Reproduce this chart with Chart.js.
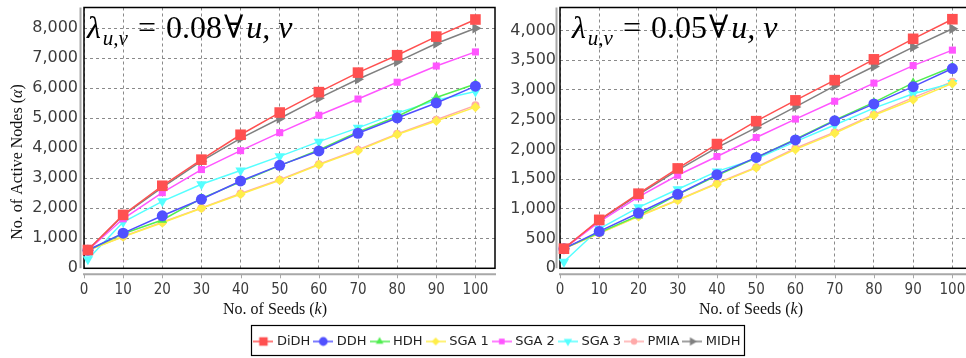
<!DOCTYPE html>
<html>
<head>
<meta charset="utf-8">
<script src="https://cdn.jsdelivr.net/npm/chart.js@4.4.1/dist/chart.umd.min.js"></script>
<style>
  html, body { margin: 0; padding: 0; background: #fff; overflow: hidden; }
  #wrap { position: relative; width: 966px; height: 358px; overflow: hidden; }
  #left { position: absolute; left: 0; top: 0; }
  #right { position: absolute; left: 480px; top: 0; }
</style>
</head>
<body>
<div id="wrap">
  <canvas id="left" width="997" height="358"></canvas>
  <canvas id="right" width="500" height="330"></canvas>
</div>
<script>
// Data
const seeds = [1, 10, 20, 30, 40, 50, 60, 70, 80, 90, 100]
const xTickValues = [0, 10, 20, 30, 40, 50, 60, 70, 80, 90, 100]
const yTicksLeft = [0, 1000, 2000, 3000, 4000, 5000, 6000, 7000, 8000]
const yTicksRight = [0, 500, 1000, 1500, 2000, 2500, 3000, 3500, 4000]

const seriesNames = ["DiDH", "DDH", "HDH", "SGA 1", "SGA 2", "SGA 3", "PMIA", "MIDH"]

// lambda = 0.08
const didh08 = [610, 1780, 2750, 3620, 4450, 5190, 5870, 6520, 7100, 7720, 8290]
const ddh08 = [600, 1170, 1750, 2300, 2910, 3430, 3910, 4500, 5010, 5510, 6070]
const hdh08 = [600, 1150, 1610, 2330, 2880, 3420, 3940, 4540, 5060, 5690, 6140]
const sga1_08 = [600, 1050, 1520, 2000, 2470, 2930, 3450, 3920, 4460, 4910, 5370]
const sga2_08 = [600, 1650, 2520, 3290, 3920, 4520, 5100, 5640, 6200, 6740, 7210]
const sga3_08 = [300, 1540, 2230, 2800, 3260, 3730, 4220, 4680, 5170, 5600, 5890]
const pmia08 = [600, 1060, 1540, 2010, 2490, 2950, 3470, 3950, 4480, 4950, 5430]
const midh08 = [610, 1760, 2700, 3570, 4330, 4990, 5670, 6300, 6880, 7490, 8000]

// lambda = 0.05
const didh05 = [330, 815, 1255, 1680, 2090, 2475, 2825, 3165, 3515, 3860, 4190]
const ddh05 = [330, 620, 930, 1245, 1575, 1865, 2160, 2480, 2765, 3055, 3360]
const hdh05 = [330, 600, 885, 1240, 1560, 1860, 2170, 2490, 2790, 3120, 3385]
const sga1_05 = [330, 590, 870, 1145, 1420, 1690, 2000, 2270, 2575, 2835, 3110]
const sga2_05 = [330, 780, 1200, 1565, 1880, 2200, 2510, 2810, 3115, 3410, 3670]
const sga3_05 = [110, 665, 1025, 1330, 1630, 1840, 2130, 2410, 2695, 2935, 3115]
const pmia05 = [330, 590, 880, 1150, 1430, 1700, 2020, 2290, 2590, 2870, 3140]
const midh05 = [330, 800, 1240, 1650, 2030, 2365, 2715, 3070, 3395, 3720, 4030]

// Styles
const seriesColors = ["#ff5050", "#5050ff", "#50ee50", "#ffee4a", "#ff55ff", "#55ffff", "#ffaaaa", "#808080"]
const markerStyles = ["rect", "circle", "triangle", "rectRot", "rect", "triangle", "circle", "triangle"]
const markerRotations = [0, 0, 0, 0, 0, 180, 0, 90]
const markerSizes = [7.5, 5.5, 5.5, 5, 5, 6, 4, 6]

const tickColor = "#3c3c3c"
const gridColor = "#8a8a8a"
const sansFont = '"DejaVu Sans", sans-serif'
const serifFont = '"Liberation Serif", "DejaVu Serif", serif'

function makeDatasets(values) {
  return seriesNames.map((name, i) => ({
    label: name,
    data: values[i].map((v, j) => ({ x: seeds[j], y: v })),
    borderColor: seriesColors[i],
    backgroundColor: seriesColors[i],
    pointBackgroundColor: seriesColors[i],
    pointBorderColor: seriesColors[i],
    pointStyle: markerStyles[i],
    pointRotation: markerRotations[i],
    pointRadius: markerSizes[i],
    pointBorderWidth: 0,
    borderWidth: 1.5,
    tension: 0,
    clip: false,
  }))
}

function legendIcon(i) {
  const c = document.createElement("canvas")
  c.width = 20
  c.height = 12
  const g = c.getContext("2d")
  g.strokeStyle = seriesColors[i]
  g.lineWidth = 1.5
  g.beginPath()
  g.moveTo(0, 6)
  g.lineTo(20, 6)
  g.stroke()
  g.fillStyle = seriesColors[i]
  Chart.helpers.drawPoint(g, {
    pointStyle: markerStyles[i],
    rotation: markerRotations[i],
    radius: markerSizes[i] * 0.8,
    borderWidth: 0,
  }, 10, 6)
  return c
}

// lambda_{u,v} = value forall u, v
function drawLambda(ctx, x, y, value) {
  ctx.fillStyle = "#000"
  ctx.textBaseline = "alphabetic"
  ctx.textAlign = "left"
  const parts = [
    ["λ", "italic 32px", 0, 2],
    ["u,v", "italic 21px", 7, 10],
    ["=", "32px", 0, 10],
    [value, "32px", 0, 2],
    ["∀", "32px", 0, 3],
    ["u, v", "italic 32px", 0, 0],
  ]
  parts.forEach(([text, font, dy, gap]) => {
    ctx.font = font + " " + serifFont
    ctx.fillText(text, x, y + dy)
    x += ctx.measureText(text).width + gap
  })
}

// draws mixed upright/italic text centered at (cx, cy)
function drawTitle(ctx, parts, cx, cy, angle) {
  ctx.save()
  ctx.translate(cx, cy)
  ctx.rotate(angle)
  ctx.fillStyle = "#111"
  ctx.textBaseline = "middle"
  ctx.textAlign = "left"
  let total = 0
  parts.forEach(([text, font]) => {
    ctx.font = font + " 16px " + serifFont
    total += ctx.measureText(text).width
  })
  let x = -total / 2
  parts.forEach(([text, font]) => {
    ctx.font = font + " 16px " + serifFont
    ctx.fillText(text, x, 0)
    x += ctx.measureText(text).width
  })
  ctx.restore()
}

function framePlugin(lambdaValue, showYTitle) {
  return {
    id: "frame",
    beforeDatasetsDraw(chart) {
      const { ctx, chartArea: a } = chart
      const xs = chart.scales.x
      ctx.save()
      ctx.strokeStyle = "#000"
      ctx.lineWidth = 1.5
      ctx.strokeRect(a.left, a.top, a.right - a.left, a.bottom - a.top)
      // offset gray axis lines
      ctx.strokeStyle = "#a8a8a8"
      ctx.lineWidth = 2
      ctx.beginPath()
      ctx.moveTo(a.left - 3.5, a.top)
      ctx.lineTo(a.left - 3.5, a.bottom)
      ctx.moveTo(a.left - 1, a.bottom + 6)
      ctx.lineTo(a.right + 1, a.bottom + 6)
      ctx.stroke()
      ctx.lineWidth = 1
      ctx.beginPath()
      xTickValues.forEach((v) => {
        const px = Math.round(xs.getPixelForValue(v)) + 0.5
        ctx.moveTo(px, a.bottom + 6)
        ctx.lineTo(px, a.bottom + 10)
      })
      ctx.stroke()
      ctx.restore()
    },
    afterDraw(chart) {
      const { ctx, chartArea: a } = chart
      ctx.save()
      drawLambda(ctx, a.left + (showYTitle ? 3 : 12), 38, lambdaValue)
      drawTitle(ctx, [["No. of Seeds (", ""], ["k", "italic"], [")", ""]], a.left + 191, 310, 0)
      if (showYTitle) {
        drawTitle(ctx, [["No. of Active Nodes (", ""], ["α", "italic"], [")", ""]], 18, 162, -Math.PI / 2)
      }
      ctx.restore()
    },
  }
}

const legendBoxPlugin = {
  id: "legendBox",
  afterDraw(chart) {
    const hb = chart.legend && chart.legend.legendHitBoxes
    if (!hb || !hb.length) return
    const ctx = chart.ctx
    const l = Math.min(...hb.map((h) => h.left)) - 5
    const r = Math.max(...hb.map((h) => h.left + h.width)) + 4
    const cy = hb[0].top + hb[0].height / 2
    ctx.save()
    ctx.strokeStyle = "#000"
    ctx.lineWidth = 1.2
    ctx.strokeRect(Math.round(l) + 0.5, Math.round(cy - 16.5) + 0.5, Math.round(r - l), 30)
    ctx.restore()
  },
}

function xScale(height) {
  return {
    type: "linear",
    min: 0,
    max: 105,
    afterBuildTicks: (s) => { s.ticks = xTickValues.map((v) => ({ value: v })) },
    afterFit: (s) => {
      s.height = height
      s.paddingLeft = 0
      s.paddingRight = 0
    },
    ticks: {
      stepSize: 10,
      padding: 13,
      autoSkip: false,
      maxRotation: 0,
      color: tickColor,
      font: { family: '"DejaVu Sans Condensed", "DejaVu Sans", sans-serif', size: 15 },
    },
    grid: { color: gridColor, lineWidth: 1, drawTicks: false },
    border: { display: false, dash: [3, 3] },
  }
}

function yScale(max, tickValues, width, pad) {
  return {
    min: 0,
    max: max,
    afterBuildTicks: (s) => { s.ticks = tickValues.map((v) => ({ value: v })) },
    afterFit: (s) => {
      s.width = width
      s.paddingTop = 0
      s.paddingBottom = 0
    },
    ticks: {
      padding: pad,
      color: tickColor,
      font: { family: sansFont, size: 16 },
      callback: (v) => Number(v).toLocaleString("en-US"),
    },
    grid: { color: gridColor, lineWidth: 1, drawTicks: false },
    border: { display: false, dash: [3, 3] },
  }
}

Chart.defaults.font.family = sansFont

// Left chart (also carries the shared legend)
new Chart(document.getElementById("left"), {
  type: "line",
  data: {
    datasets: makeDatasets([didh08, ddh08, hdh08, sga1_08, sga2_08, sga3_08, pmia08, midh08]),
  },
  options: {
    responsive: false,
    animation: false,
    events: [],
    layout: { padding: { top: 4, right: 0, bottom: 0, left: 0 } },
    scales: {
      x: xScale(60.7),
      y: yScale(8690, yTicksLeft, 84, 6),
      pad: {
        position: "right",
        display: true,
        ticks: { display: false },
        grid: { display: false },
        border: { display: false },
        afterFit: (s) => {
          s.width = 502
          s.paddingTop = 0
          s.paddingBottom = 0
        },
      },
    },
    plugins: {
      tooltip: { enabled: false },
      legend: {
        position: "bottom",
        labels: {
          usePointStyle: true,
          pointStyleWidth: 14,
          padding: 6,
          color: "#222",
          font: { family: sansFont, size: 13 },
          generateLabels: (chart) => chart.data.datasets.map((ds, i) => ({
            text: ds.label,
            pointStyle: legendIcon(i),
            fillStyle: seriesColors[i],
            strokeStyle: seriesColors[i],
            lineWidth: 0,
            fontColor: "#222",
            hidden: false,
            datasetIndex: i,
          })),
        },
      },
    },
  },
  plugins: [framePlugin("0.08", true), legendBoxPlugin],
})

// Right chart
new Chart(document.getElementById("right"), {
  type: "line",
  data: {
    datasets: makeDatasets([didh05, ddh05, hdh05, sga1_05, sga2_05, sga3_05, pmia05, midh05]),
  },
  options: {
    responsive: false,
    animation: false,
    events: [],
    layout: { padding: { top: 4, right: 8, bottom: 0, left: 0 } },
    scales: {
      x: xScale(61.7),
      y: yScale(4387, yTicksRight, 80, 4),
    },
    plugins: {
      tooltip: { enabled: false },
      legend: { display: false },
    },
  },
  plugins: [framePlugin("0.05", false)],
})
</script>
</body>
</html>
